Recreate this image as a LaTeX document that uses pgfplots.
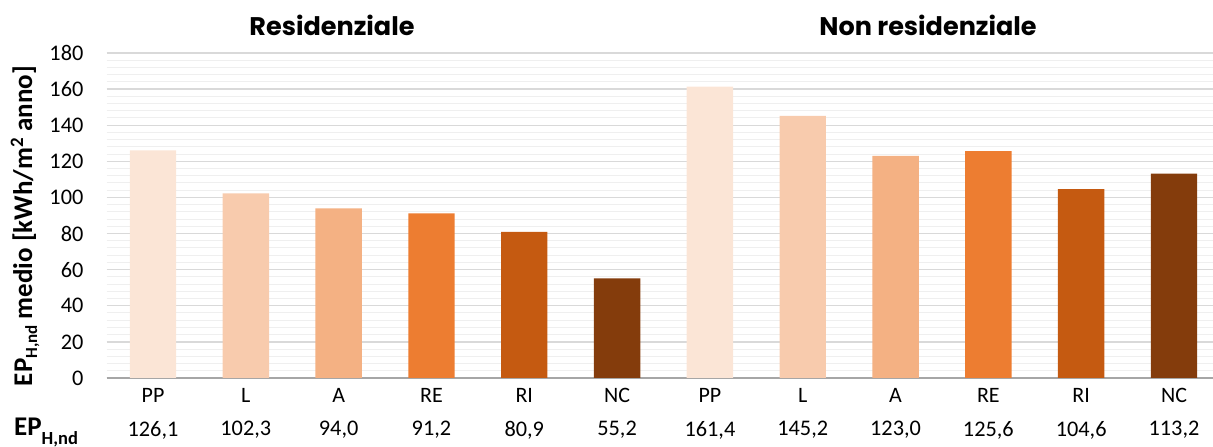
\documentclass[border=0pt]{standalone}
\usepackage{pgfplots}
\pgfplotsset{compat=1.18}
\usepackage{fontspec}
\setmainfont{Carlito}
\newfontfamily\titlefont{Poppins}

\definecolor{cPP}{HTML}{FBE5D6}
\definecolor{cL}{HTML}{F8CBAD}
\definecolor{cA}{HTML}{F4B183}
\definecolor{cRE}{HTML}{ED7D31}
\definecolor{cRI}{HTML}{C55A11}
\definecolor{cNC}{HTML}{843C0C}
\definecolor{majgrid}{HTML}{D9D9D9}
\definecolor{mingrid}{HTML}{EFEFEF}
\definecolor{baseline}{HTML}{A6A6A6}

% EP with a large, deeply lowered subscript
\newcommand{\EPsub}[2]{EP\raisebox{#2}{\fontsize{#1}{#1}\selectfont H,nd}}

\begin{document}
\begin{tikzpicture}[valrow/.style={font=\fontsize{22.3}{26}\selectfont, inner sep=0pt}]
\path[use as bounding box] (0,0) rectangle (1213pt,447pt);
\begin{axis}[
  at={(106.6pt,69pt)}, anchor=south west,
  scale only axis, width=1106.4pt, height=325pt,
  xmin=-0.5, xmax=11.42, ymin=0, ymax=180,
  ytick={0,20,...,180}, minor y tick num=4,
  ymajorgrids, yminorgrids,
  major grid style={draw=majgrid, line width=1.3pt},
  minor grid style={draw=mingrid, line width=1pt},
  xtick={0,...,11},
  xticklabels={PP,L,A,RE,RI,NC,PP,L,A,RE,RI,NC},
  tick style={draw=none}, major tick length=0pt, minor tick length=0pt,
  axis x line*=bottom, axis y line*=left,
  x axis line style={draw=baseline, line width=1.2pt, -},
  y axis line style={draw=none},
  yticklabel style={font=\fontsize{22.3}{26}\selectfont, inner sep=0pt, anchor=east, xshift=-23pt},
  xticklabel style={font=\fontsize{22}{26}\selectfont, inner sep=0pt, anchor=north, yshift=-10pt},
  /pgf/number format/assume math mode=true,
  clip=false,
]
% Residenziale: x = 0..5, Non residenziale: x = 6..11
\addplot[ybar, bar width=0.5, bar shift=0pt, fill=cPP, draw=none] coordinates {(0,126.1) (6,161.4)};
\addplot[ybar, bar width=0.5, bar shift=0pt, fill=cL,  draw=none] coordinates {(1,102.3) (7,145.2)};
\addplot[ybar, bar width=0.5, bar shift=0pt, fill=cA,  draw=none] coordinates {(2,94.0)  (8,123.0)};
\addplot[ybar, bar width=0.5, bar shift=0pt, fill=cRE, draw=none] coordinates {(3,91.2)  (9,125.6)};
\addplot[ybar, bar width=0.5, bar shift=0pt, fill=cRI, draw=none] coordinates {(4,80.9)  (10,104.6)};
\addplot[ybar, bar width=0.5, bar shift=0pt, fill=cNC, draw=none] coordinates {(5,55.2)  (11,113.2)};

% value row under the category labels
\node[valrow] at (axis cs:0,-28.8) {126,1};
\node[valrow] at (axis cs:1,-28.8) {102,3};
\node[valrow] at (axis cs:2,-28.8) {94,0};
\node[valrow] at (axis cs:3,-28.8) {91,2};
\node[valrow] at (axis cs:4,-28.8) {80,9};
\node[valrow] at (axis cs:5,-28.8) {55,2};
\node[valrow] at (axis cs:6,-28.8) {161,4};
\node[valrow] at (axis cs:7,-28.8) {145,2};
\node[valrow] at (axis cs:8,-28.8) {123,0};
\node[valrow] at (axis cs:9,-28.8) {125,6};
\node[valrow] at (axis cs:10,-28.8) {104,6};
\node[valrow] at (axis cs:11,-28.8) {113,2};
\end{axis}

\node[font=\titlefont\fontsize{25.5}{30}\selectfont\bfseries] at (332pt,422pt) {Residenziale};
\node[font=\titlefont\fontsize{25.5}{30}\selectfont\bfseries] at (928pt,422pt) {Non residenziale};
\node[font=\fontsize{27}{32}\selectfont\bfseries, rotate=90] at (25pt,221pt)
  {\EPsub{17}{-5pt} medio [kWh/m\textsuperscript{2} anno]};
\node[font=\fontsize{27}{32}\selectfont\bfseries, anchor=base west, inner sep=0pt] at (14pt,11pt)
  {\EPsub{18.5}{-8.5pt}};
\end{tikzpicture}
\end{document}
